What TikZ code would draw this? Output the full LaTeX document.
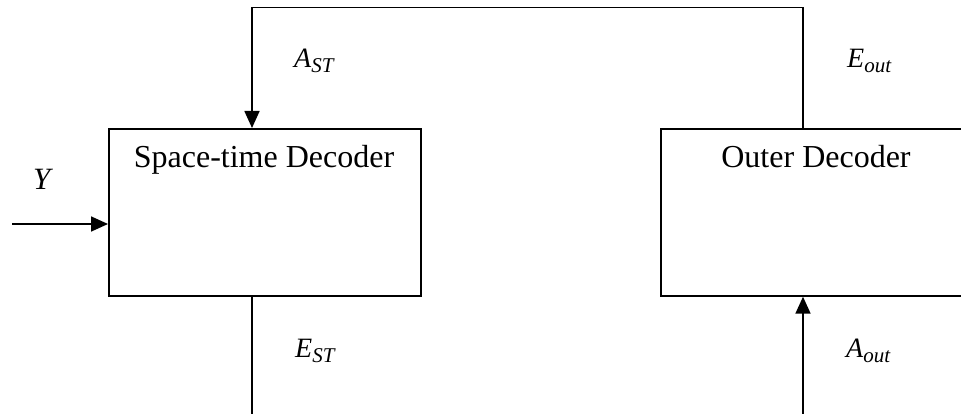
\documentclass[tikz,border=0pt]{standalone}
\usepackage{fontspec}
\setmainfont{Liberation Serif}
\usetikzlibrary{arrows.meta}

% italic symbol with a lowered italic subscript
\newcommand{\sigsub}[2]{{\fontsize{28}{28}\selectfont\itshape #1\raisebox{-5pt}{\fontsize{21}{21}\selectfont #2}}}

\tikzset{
  wire/.style={line width=1.7pt},
  arr/.style={wire, -{Triangle[length=17pt,width=15pt]}},
  block/.style={draw, line width=1.7pt, anchor=north west, inner sep=0pt,
                minimum width=312pt, minimum height=167pt},
  title/.style={font=\fontsize{32}{32}\selectfont, anchor=base, inner sep=0pt},
  sig/.style={anchor=base west, inner sep=0pt},
}

\begin{document}
\begin{tikzpicture}[x=1pt, y=-1pt]
  \useasboundingbox (0,0) rectangle (961,414);
  \clip (0,0) rectangle (961,414);

  % decoder blocks
  \node[block] (st) at (108,128) {};
  \node[block] (outer) at (660,128) {};
  \node[title] (stname) at (264,168) {Space-time Decoder};
  \node[title] (outname) at (816,168) {Outer Decoder};

  % routing points
  \coordinate (fbR) at (803,7.5);
  \coordinate (fbL) at (252,7.5);
  \coordinate (yin) at (12,224);
  \coordinate (est) at (252,414);
  \coordinate (aout) at (803,414);

  % feedback loop from outer decoder to space-time decoder
  \draw[arr] (outer.north -| fbR) -- (fbR) -- (fbL) -- (st.north -| fbL);
  % received signal
  \draw[arr] (yin) -- (yin -| st.west);
  % extrinsic output of the space-time decoder
  \draw[wire] (st.south -| est) -- (est);
  % a priori input of the outer decoder
  \draw[arr] (aout) -- (aout |- outer.south);

  % signal labels
  \node[sig] (lAst) at (294,68) {\sigsub{A}{ST}};
  \node[sig] (lEout) at (847,68) {\sigsub{E}{out}};
  \node[sig] (lY) at (33,190) {\fontsize{31}{31}\selectfont\itshape Y};
  \node[sig] (lEst) at (295,357) {\sigsub{E}{ST}};
  \node[sig] (lAout) at (846,357) {\sigsub{A}{out}};
\end{tikzpicture}
\end{document}
